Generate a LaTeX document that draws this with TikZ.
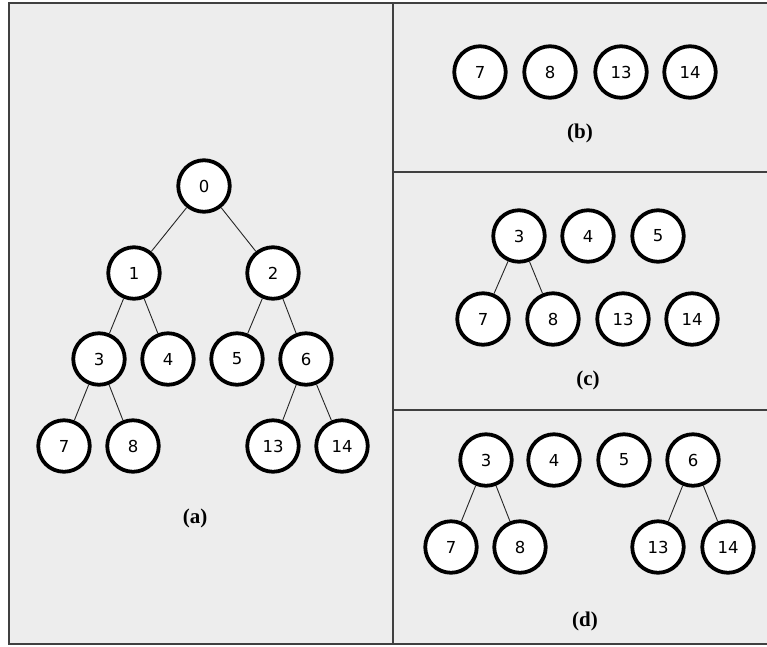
\documentclass[tikz,border=0pt]{standalone}
\usepackage{fontspec}
\setmainfont{DejaVu Sans}
\newfontfamily\capfont{Liberation Serif}
\usepackage{tikz}

\begin{document}
\begin{tikzpicture}[x=1pt,y=-1pt,
  knot/.style={circle,draw=black,line width=3.8pt,fill=white,minimum size=51.5pt,
    inner sep=0pt,font=\fontsize{16.5}{16.5}\selectfont},
  link/.style={black!85,line width=0.9pt},
  caption/.style={font=\capfont\bfseries\fontsize{21}{21}\selectfont},
  panel/.style={black!75,line width=1.4pt}]
\useasboundingbox (0,0) rectangle (767,646);
\fill[white] (0,0) rectangle (767,646);
\fill[black!7] (9,3) rectangle (767,644);
\draw[panel] (767,3) -- (9,3) -- (9,644) -- (767,644);
\draw[panel] (393,3) -- (393,644);
\draw[panel] (393,172) -- (767,172);
\draw[panel] (393,410) -- (767,410);
% (a) the whole tree
\node[knot] (a0) at (204,186) {0};
\node[knot] (a1) at (134,273) {1};
\node[knot] (a2) at (273,273) {2};
\node[knot] (a3) at (99,359) {3};
\node[knot] (a4) at (168,359) {4};
\node[knot] (a5) at (237,359) {5};
\node[knot] (a6) at (306,359) {6};
\node[knot] (a7) at (64,446) {7};
\node[knot] (a8) at (133,446) {8};
\node[knot] (a13) at (273,446) {13};
\node[knot] (a14) at (342,446) {14};
\foreach \p/\c in {0/1,0/2,1/3,1/4,2/5,2/6,3/7,3/8,6/13,6/14}
  \draw[link] (a\p) -- (a\c);
\node[caption] (la) at (195,518) {(a)};
% (b) leaves only
\node[knot] (b7) at (480,72) {7};
\node[knot] (b8) at (550,72) {8};
\node[knot] (b13) at (621,72) {13};
\node[knot] (b14) at (690,72) {14};
\node[caption] (lb) at (580,133) {(b)};
% (c)
\node[knot] (c3) at (519,236) {3};
\node[knot] (c4) at (588,236) {4};
\node[knot] (c5) at (658,236) {5};
\node[knot] (c7) at (483,319) {7};
\node[knot] (c8) at (553,319) {8};
\node[knot] (c13) at (623,319) {13};
\node[knot] (c14) at (692,319) {14};
\foreach \c in {7,8} \draw[link] (c3) -- (c\c);
\node[caption] (lc) at (588,380) {(c)};
% (d)
\node[knot] (d3) at (486,460) {3};
\node[knot] (d4) at (554,460) {4};
\node[knot] (d5) at (624,460) {5};
\node[knot] (d6) at (693,460) {6};
\node[knot] (d7) at (451,547) {7};
\node[knot] (d8) at (520,547) {8};
\node[knot] (d13) at (658,547) {13};
\node[knot] (d14) at (728,547) {14};
\foreach \p/\c in {3/7,3/8,6/13,6/14} \draw[link] (d\p) -- (d\c);
\node[caption] (ld) at (585,621) {(d)};
\end{tikzpicture}
\end{document}
